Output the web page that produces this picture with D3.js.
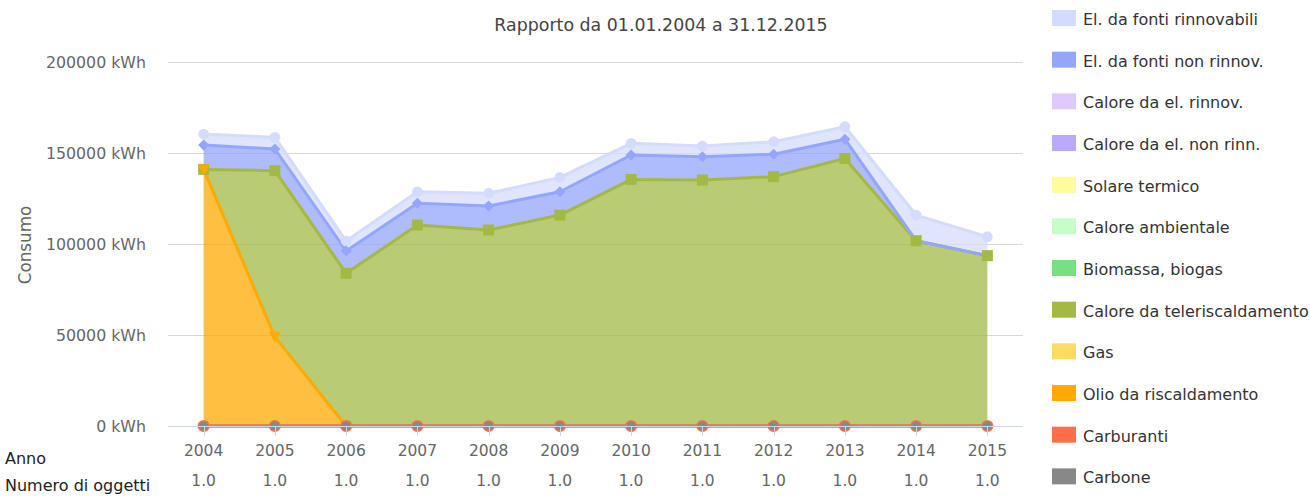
<!DOCTYPE html>
<html lang="it">
<head>
<meta charset="UTF-8">
<script src="https://d3js.org/d3.v7.min.js"></script>
<title>Rapporto consumi</title>
<style>
  body { margin: 0; background: #fff; }
  svg { font-family: "DejaVu Sans", sans-serif; }
  .grid line { stroke: #d8d8d8; stroke-width: 1px; }
  .tick-y { fill: #666; font-size: 15.8px; }
  .tick-x { fill: #666; font-size: 15.5px; }
  .legend text { fill: #333; font-size: 16px; }
</style>
</head>
<body>
<svg width="1310" height="498"></svg>
<script>
// years on the x axis
var years = ["2004","2005","2006","2007","2008","2009","2010","2011","2012","2013","2014","2015"];
var objects = ["1.0","1.0","1.0","1.0","1.0","1.0","1.0","1.0","1.0","1.0","1.0","1.0"];
var yTicks = [0, 50000, 100000, 150000, 200000];

// values in kWh, one array per source (null = no data)
var elRinnov    = [6000, 6400, 5400, 6300, 7000, 7900, 6400, 5800, 6900, 6900, 14100, 10400];
var elNonRinnov = [13400, 11900, 12300, 12000, 13200, 12800, 13400, 12800, 12300, 10600, 0, 0];
var caloreElRin = [null, null, null, null, null, null, null, null, null, null, null, null];
var caloreElNon = [null, null, null, null, null, null, null, null, null, null, null, null];
var solare      = [null, null, null, null, null, null, null, null, null, null, null, null];
var caloreAmb   = [null, null, null, null, null, null, null, null, null, null, null, null];
var biomassa    = [null, null, null, null, null, null, null, null, null, null, null, null];
var teleriscald = [0, 91300, 83900, 110400, 107700, 115900, 135500, 135200, 137000, 147000, 101800, 93600];
var gas         = [null, null, null, null, null, null, null, null, null, null, null, null];
var olio        = [141000, 49000, 0, null, null, null, null, null, null, null, null, null];
var carburanti  = [0, 0, 0, 0, 0, 0, 0, 0, 0, 0, 0, 0];
var carbone     = [0, 0, 0, 0, 0, 0, 0, 0, 0, 0, 0, 0];

// legend order (top of stack first)
var series = [
  {name: "El. da fonti rinnovabili",   color: "#d3dcfc", symbol: "circle",   values: elRinnov},
  {name: "El. da fonti non rinnov.",   color: "#93a6fc", symbol: "diamond",  values: elNonRinnov},
  {name: "Calore da el. rinnov.",      color: "#dccbfc", symbol: "square",   values: caloreElRin},
  {name: "Calore da el. non rinn.",    color: "#bca8fc", symbol: "triangle", values: caloreElNon},
  {name: "Solare termico",             color: "#fefc9c", symbol: "tridown",  values: solare},
  {name: "Calore ambientale",          color: "#c8fcc8", symbol: "circle",   values: caloreAmb},
  {name: "Biomassa, biogas",           color: "#78e080", symbol: "diamond",  values: biomassa},
  {name: "Calore da teleriscaldamento",color: "#a2ba44", symbol: "square",   values: teleriscald},
  {name: "Gas",                        color: "#fedc64", symbol: "triangle", values: gas},
  {name: "Olio da riscaldamento",      color: "#ffaa00", symbol: "tridown",  values: olio},
  {name: "Carburanti",                 color: "#ff6e4a", symbol: "circle",   values: carburanti},
  {name: "Carbone",                    color: "#888888", symbol: "circle",   values: carbone}
];

var svg = d3.select("svg");
var plotLeft = 168, plotRight = 1023, plotTop = 62, plotBottom = 426;

var x = d3.scalePoint().domain(years).range([plotLeft, plotRight]).padding(0.5);
var y = d3.scaleLinear().domain([0, 200000]).range([plotBottom, plotTop]);

// title
svg.append("text")
  .attr("x", 661).attr("y", 31)
  .attr("text-anchor", "middle")
  .attr("fill", "#444").style("font-size", "17.4px")
  .text("Rapporto da 01.01.2004 a 31.12.2015");

// y axis title
svg.append("text")
  .attr("transform", "translate(31,245) rotate(-90)")
  .attr("text-anchor", "middle")
  .attr("fill", "#666").style("font-size", "16.8px")
  .text("Consumo");

// grid + y labels
var grid = svg.append("g").attr("class", "grid");
grid.selectAll("line").data(yTicks.filter(d => d > 0)).join("line")
  .attr("x1", plotLeft).attr("x2", plotRight)
  .attr("y1", d => Math.round(y(d)) + 0.5).attr("y2", d => Math.round(y(d)) + 0.5);

svg.append("g").selectAll("text").data(yTicks).join("text")
  .attr("class", "tick-y")
  .attr("x", 146).attr("y", d => y(d) + 6)
  .attr("text-anchor", "end")
  .text(d => d + " kWh");

// stacking: bottom of the stack is the last series
var stackOrder = series.slice().reverse();
var base = years.map(() => 0);
stackOrder.forEach(function(s) {
  s.points = years.map(function(yr, i) {
    var v = s.values[i];
    var y0 = base[i];
    var y1 = y0 + (v == null ? 0 : v);
    base[i] = y1;
    return {year: yr, v: v, y0: y0, y1: y1};
  });
});

var area = d3.area()
  .defined(d => d.v != null)
  .x(d => x(d.year))
  .y0(d => y(d.y0))
  .y1(d => y(d.y1));

var line = d3.line()
  .defined(d => d.v != null)
  .x(d => x(d.year))
  .y(d => y(d.y1));

var plot = svg.append("g");
stackOrder.forEach(function(s) {
  plot.append("path")
    .attr("d", area(s.points))
    .attr("fill", s.color)
    .attr("fill-opacity", 0.75);
});

// x axis line and ticks
svg.append("line")
  .attr("x1", plotLeft).attr("x2", plotRight)
  .attr("y1", plotBottom + 0.5).attr("y2", plotBottom + 0.5)
  .attr("stroke", "#ccd6eb");
svg.append("g").selectAll("line").data(years).join("line")
  .attr("x1", d => Math.round(x(d)) + 0.5).attr("x2", d => Math.round(x(d)) + 0.5)
  .attr("y1", plotBottom).attr("y2", plotBottom + 10)
  .attr("stroke", "#ccd6eb");

stackOrder.forEach(function(s) {
  plot.append("path")
    .attr("d", line(s.points))
    .attr("fill", "none")
    .attr("stroke", s.color)
    .attr("stroke-width", 3)
    .attr("stroke-linejoin", "round");
});

function markerPath(sym) {
  if (sym === "diamond") return "M0,-5.5L5.5,0L0,5.5L-5.5,0Z";
  if (sym === "tridown") return "M-6,-5L6,-5L0,6Z";
  if (sym === "square") return "M-5.5,-5.5H5.5V5.5H-5.5Z";
  if (sym === "triangle") return "M0,-6L6,5L-6,5Z";
  return d3.symbol(d3.symbolCircle, 90)();
}

// markers: upper series first so lower ones sit on top
series.forEach(function(s) {
  var pts = s.points.filter(d => d.v != null);
  plot.append("g").selectAll("path").data(pts).join("path")
    .attr("transform", d => "translate(" + x(d.year) + "," + y(d.y1) + ")")
    .attr("d", markerPath(s.symbol))
    .attr("fill", s.color)
    .attr("stroke", s.name === "Carbone" ? "#ff6e4a" : "none")
    .attr("stroke-width", 1.5);
});

// category labels
svg.append("g").selectAll("text").data(years).join("text")
  .attr("class", "tick-x")
  .attr("x", d => x(d)).attr("y", 456)
  .attr("text-anchor", "middle")
  .text(d => d);

svg.append("g").selectAll("text").data(years).join("text")
  .attr("class", "tick-x")
  .attr("x", d => x(d)).attr("y", 486)
  .attr("text-anchor", "middle")
  .text((d, i) => objects[i]);

svg.append("text").attr("x", 5).attr("y", 464)
  .attr("fill", "#222").style("font-size", "16px").text("Anno");
svg.append("text").attr("x", 5).attr("y", 491)
  .attr("fill", "#222").style("font-size", "16px").text("Numero di oggetti");

// legend
var legend = svg.append("g").attr("class", "legend");
var item = legend.selectAll("g").data(series).join("g")
  .attr("transform", (d, i) => "translate(1052," + (10 + i * 41.67) + ")");
item.append("rect")
  .attr("width", 24).attr("height", 16)
  .attr("fill", d => d.color);
item.append("text")
  .attr("x", 31).attr("y", 15)
  .text(d => d.name);
</script>
</body>
</html>
